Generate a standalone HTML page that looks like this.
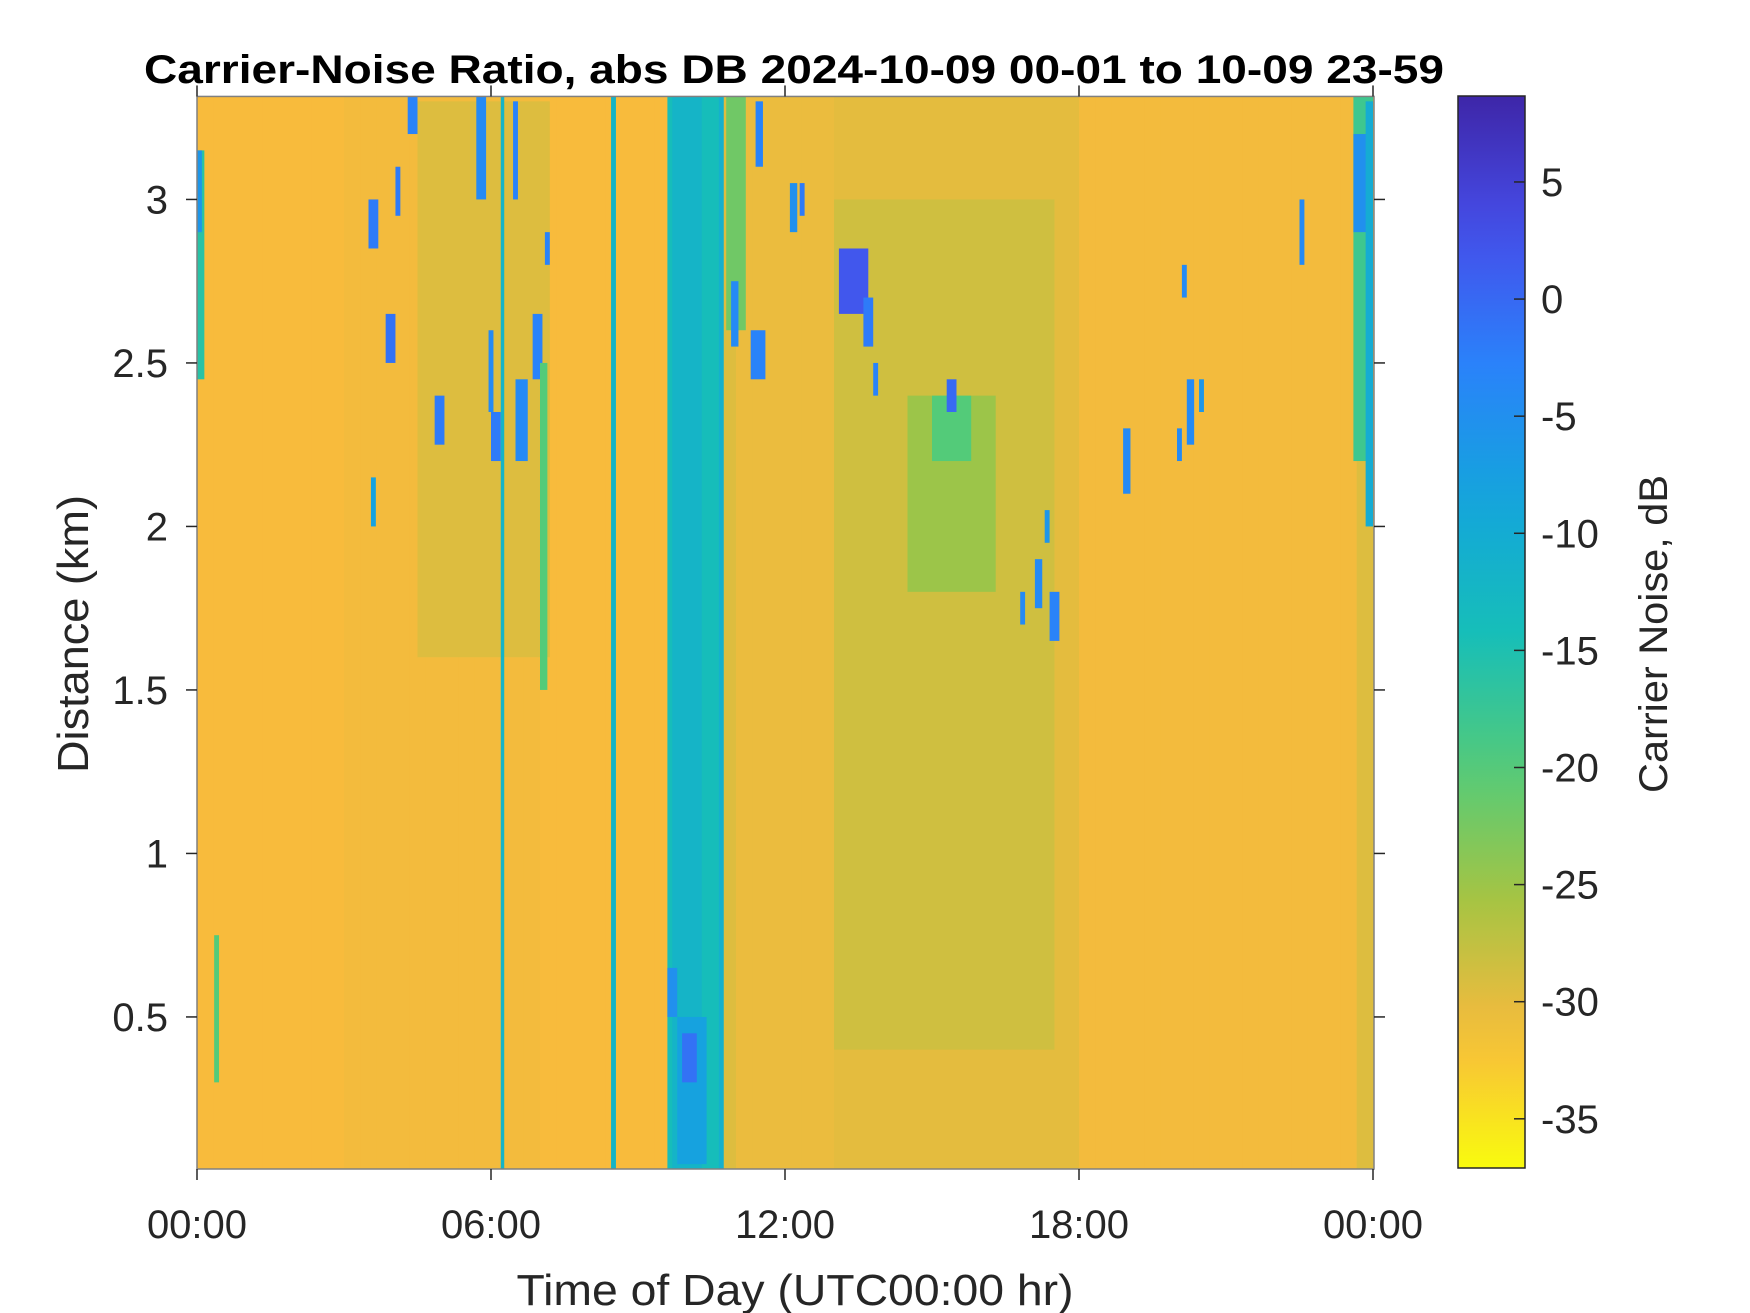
<!DOCTYPE html>
<html><head><meta charset="utf-8"><style>
html,body{margin:0;padding:0;background:#fff;}
svg{display:block;font-family:"Liberation Sans",Arial,sans-serif;}
</style></head><body>
<svg id="chart" width="1750" height="1313" viewBox="0 0 1750 1313" xmlns="http://www.w3.org/2000/svg">
<defs><linearGradient id="cbgrad" x1="0" y1="1" x2="0" y2="0"></linearGradient></defs>
<text x="794" y="83" text-anchor="middle" font-size="40" font-weight="bold" textLength="1300" lengthAdjust="spacingAndGlyphs" fill="#000">Carrier-Noise Ratio, abs DB 2024-10-09 00-01 to 10-09 23-59</text>
<g id="heat"></g>
<g id="axes"></g>
<text x="795" y="1305" text-anchor="middle" font-size="44" textLength="557" lengthAdjust="spacingAndGlyphs" fill="#262626">Time of Day (UTC00:00 hr)</text>
<text transform="translate(88,634) rotate(-90)" text-anchor="middle" font-size="44" textLength="278" lengthAdjust="spacingAndGlyphs" fill="#262626">Distance (km)</text>
<rect x="1458" y="96" width="67" height="1072" fill="url(#cbgrad)" stroke="#262626" stroke-width="1.5"/>
<g id="cbaxis"></g>
<text transform="translate(1667,634) rotate(-90)" text-anchor="middle" font-size="40" textLength="318" lengthAdjust="spacingAndGlyphs" fill="#262626">Carrier Noise, dB</text>
</svg>
<script>
// ---- data ----
const vmin = -37.1, vmax = 8.67;
const hourTicks = [0, 6, 12, 18, 24];
const hourTickLabels = ["00:00", "06:00", "12:00", "18:00", "00:00"];
const distTicks = [0.5, 1, 1.5, 2, 2.5, 3];
const distTickLabels = ["0.5", "1", "1.5", "2", "2.5", "3"];
const cbTicks = [-35, -30, -25, -20, -15, -10, -5, 0, 5];
const cbTickLabels = ["-35", "-30", "-25", "-20", "-15", "-10", "-5", "0", "5"];
// base dB per 20-minute column
const baseColumns = [-31.5,-31.5,-31.5,-31.5,-31.5,-31.5,-31.5,-31.5,-31.5,
 -31,-31,-31,-31,-31,-31,-31,-31,-31,-31,-31,-31,
 -31.5,-31.5,-31.5,-31.5,-31.5,-31.5,-31.5,-31.5,
 -14,-14,-14,-29.5,
 -30.5,-30.5,-30.5,-30.5,-30.5,-30.5,
 -30,-30,-30,-30,-30,-30,-30,-30,-30,-30,-30,-30,-30,-30,-30,
 -31,-31,-31,-31,-31,-31,-31,-31,-31,-31,-31,-31,-31,-31,-31,-31,-31,-29.5];
// patches: start hour, end hour, min km, max km, dB
const patchT0 = [4.5,13,14.5,15,0,0,0.35,3.5,3.55,3.85,4.05,4.3,4.85,5.7,5.95,6.0,6.2,6.45,6.5,6.85,7.0,7.1,8.45,9.6,9.7,10.65,9.6,9.8,9.9,10.8,10.9,11.3,11.4,12.1,12.3,13.1,13.6,13.8,15.3,16.8,17.1,17.4,17.3,18.9,20.0,20.2,20.45,20.1,22.5,23.6,23.6,23.85];
const patchT1 = [7.2,17.5,16.3,15.8,0.15,0.1,0.45,3.7,3.65,4.05,4.15,4.5,5.05,5.9,6.05,6.2,6.27,6.55,6.75,7.05,7.15,7.2,8.55,10.7,10.3,10.75,9.8,10.4,10.2,11.2,11.05,11.6,11.55,12.25,12.4,13.7,13.8,13.9,15.5,16.9,17.25,17.6,17.4,19.05,20.1,20.35,20.55,20.2,22.6,24,23.9,24];
const patchD0 = [1.6,0.4,1.8,2.2,2.45,2.9,0.3,2.85,2.0,2.5,2.95,3.2,2.25,3.0,2.35,2.2,0.035,3.0,2.2,2.45,1.5,2.8,0.035,0.035,0.035,0.035,0.5,0.05,0.3,2.6,2.55,2.45,3.1,2.9,2.95,2.65,2.55,2.4,2.35,1.7,1.75,1.65,1.95,2.1,2.2,2.25,2.35,2.7,2.8,2.2,2.9,2.0];
const patchD1 = [3.3,3.0,2.4,2.4,3.15,3.15,0.75,3.0,2.15,2.65,3.1,3.315,2.4,3.315,2.6,2.35,3.315,3.3,2.45,2.65,2.5,2.9,3.315,3.315,3.315,3.315,0.65,0.5,0.45,3.315,2.75,2.6,3.3,3.05,3.05,2.85,2.7,2.5,2.45,1.8,1.9,1.8,2.05,2.3,2.3,2.45,2.45,2.8,3.0,3.315,3.2,3.3];
const patchDB = [-29.5,-28.5,-25,-20,-16,-6,-20,-2,-8,-1,-2,-3,-2,-4,-4,-2,-12,-3,-4,-3,-20,-3,-12,-14,-12,-11,-5,-8,-1,-22,-4,-3,-3,-5,-2,2,-2,-3,0,-4,-4,-3,-6,-4,-4,-4,-6,-4,-4,-18,-5,-10];

// ---- scales ----
const X0 = 197, PXH = 49, YB = 1169, PXK = 327, D0 = 0.035, DTOP = 3.315;
function xh(h){ return X0 + h * PXH; }
function yd(d){ return YB - (d - D0) * PXK; }
const cbTop = 96, cbBot = 1168;
function ycb(v){ return cbBot - (v - vmin) / (vmax - vmin) * (cbBot - cbTop); }
const par = [[62,38,168],[70,78,234],[42,130,250],[20,165,220],[22,190,185],[82,203,122],[166,196,67],[248,186,61],[249,251,14]];
function parula(p){
  p = Math.max(0, Math.min(1, p));
  const s = p * (par.length - 1), i = Math.min(par.length - 2, Math.floor(s)), f = s - i;
  const c = par[i].map((a, k) => Math.round(a + (par[i+1][k] - a) * f));
  return `rgb(${c[0]},${c[1]},${c[2]})`;
}
function color(v){ return parula(1 - (v - vmin) / (vmax - vmin)); }

const NS = "http://www.w3.org/2000/svg";
function mk(tag, attrs, parent){
  const e = document.createElementNS(NS, tag);
  for (const k in attrs) e.setAttribute(k, attrs[k]);
  parent.appendChild(e); return e;
}
const heat = document.getElementById('heat');
const colW = 24 / baseColumns.length;
baseColumns.forEach((v, i) => {
  const r = mk('rect', {x: xh(i*colW), y: yd(DTOP), width: xh((i+1)*colW) - xh(i*colW) + 0.5, height: yd(D0) - yd(DTOP), fill: color(v)}, heat);
  
  
});
patchT0.forEach((t0, i) => {
  const r = mk('rect', {x: xh(t0), y: yd(patchD1[i]), width: xh(patchT1[i]) - xh(t0), height: yd(patchD0[i]) - yd(patchD1[i]), fill: color(patchDB[i])}, heat);
  
  
});

const ax = document.getElementById('axes');
const L = xh(0), R = 1374, T = yd(DTOP), B = YB;
mk('rect', {x: L, y: T, width: R - L, height: B - T, fill: 'none', stroke: '#808080', 'stroke-width': 1.5}, ax);
hourTicks.forEach((h, i) => {
  const x = xh(h);
  mk('line', {x1: x, y1: B, x2: x, y2: B + 11, stroke: '#262626', 'stroke-width': 1.5}, ax);
  mk('line', {x1: x, y1: T, x2: x, y2: T - 11, stroke: '#262626', 'stroke-width': 1.5}, ax);
  const t = mk('text', {x: x, y: 1238, 'text-anchor': 'middle', 'font-size': 40, fill: '#262626'}, ax);
  t.textContent = hourTickLabels[i];
  
  
});
distTicks.forEach((d, i) => {
  const y = yd(d);
  mk('line', {x1: L - 11, y1: y, x2: L, y2: y, stroke: '#262626', 'stroke-width': 1.5}, ax);
  mk('line', {x1: R, y1: y, x2: R + 11, y2: y, stroke: '#262626', 'stroke-width': 1.5}, ax);
  const t = mk('text', {x: 168, y: y + 14, 'text-anchor': 'end', 'font-size': 40, fill: '#262626'}, ax);
  t.textContent = distTickLabels[i];
  
  
});
const grad = document.getElementById('cbgrad');
for (let k = 0; k <= 20; k++) {
  const p = k / 20;
  mk('stop', {offset: p, 'stop-color': color(vmin + p * (vmax - vmin))}, grad);
}
const cb = document.getElementById('cbaxis');
cbTicks.forEach((v, i) => {
  const y = ycb(v);
  mk('line', {x1: 1514, y1: y, x2: 1525, y2: y, stroke: '#262626', 'stroke-width': 1.5}, cb);
  const t = mk('text', {x: 1541, y: y + 14, 'font-size': 40, fill: '#262626'}, cb);
  t.textContent = cbTickLabels[i];
  
  
});
</script>
</body></html>
